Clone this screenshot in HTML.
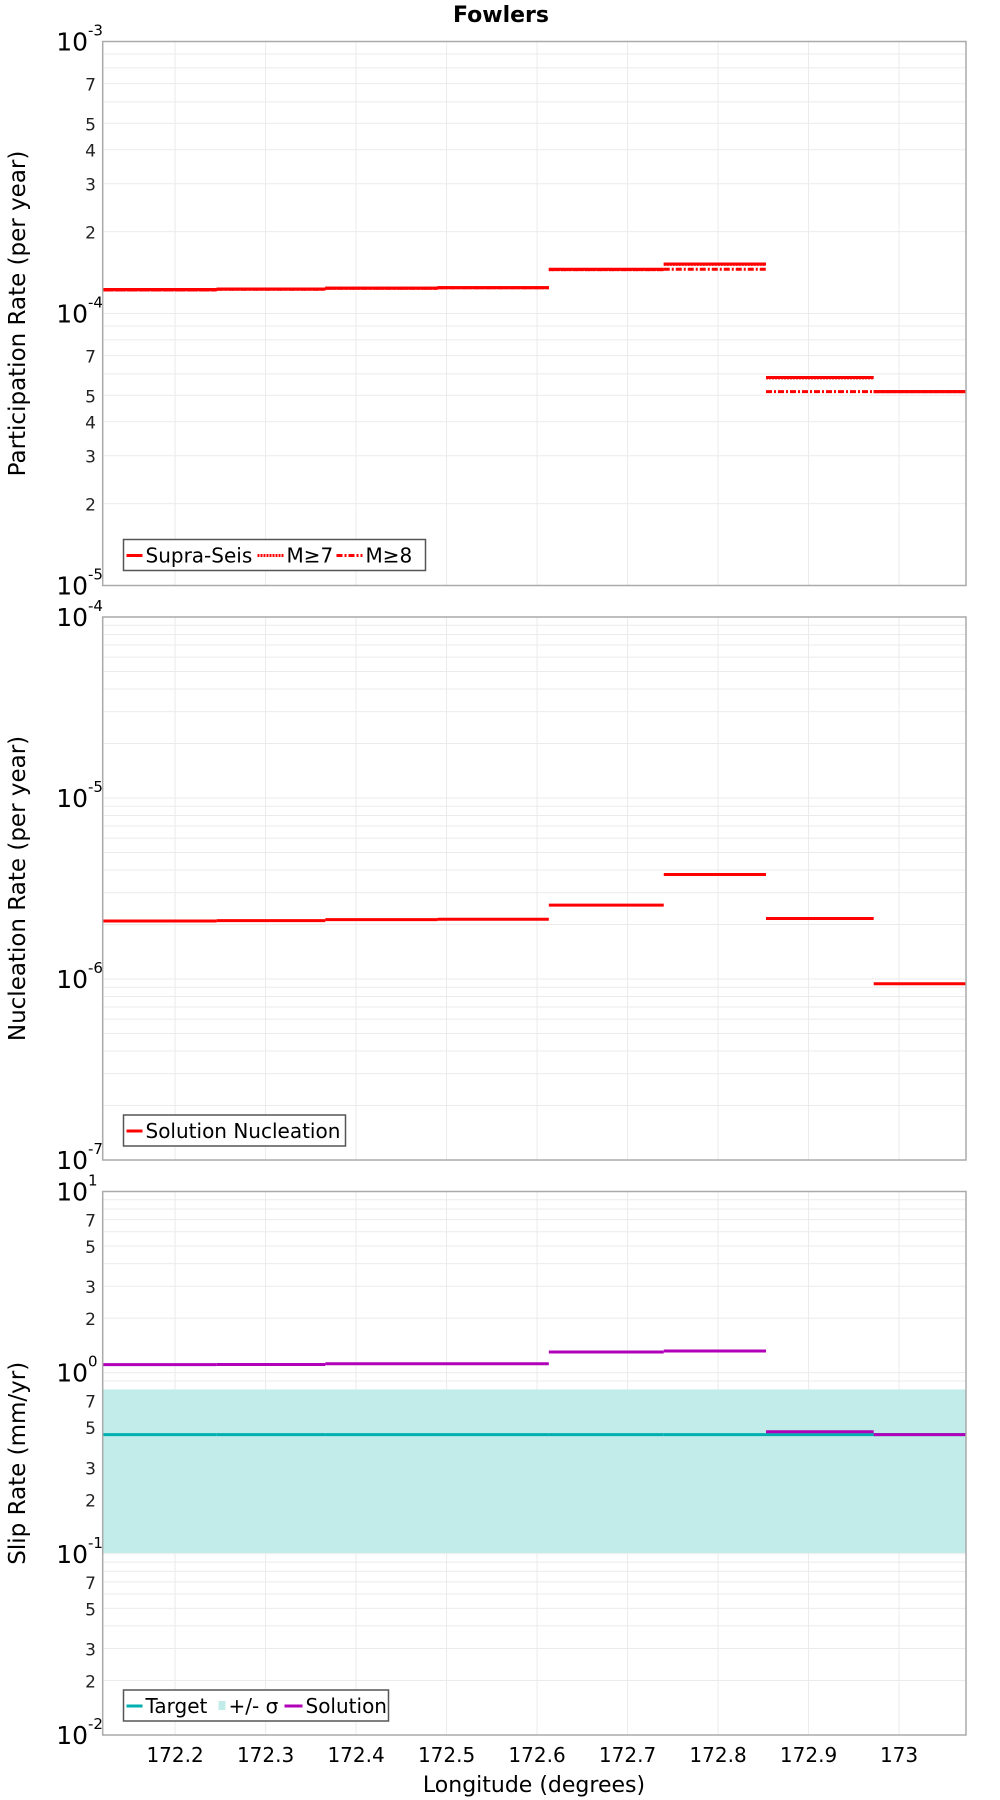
<!DOCTYPE html>
<html><head><meta charset="utf-8"><style>
body{margin:0;background:#fff;}
svg{display:block;font-family:"DejaVu Sans","Liberation Sans",sans-serif;}
</style></head><body>
<svg id="chart" width="1000" height="1800" viewBox="0 0 1000 1800" xmlns="http://www.w3.org/2000/svg">
<text x="501" y="22" text-anchor="middle" font-weight="bold" font-size="22">Fowlers</text>
<g id="root"></g>
</svg>
<script>
const xEdges=[172.12,172.246,172.366,172.49,172.613,172.740,172.853,172.972,173.074];
const xTicks=[172.2,172.3,172.4,172.5,172.6,172.7,172.8,172.9,173];
const xTickLabels=["172.2","172.3","172.4","172.5","172.6","172.7","172.8","172.9","173"];
const partSupra=[1.225e-4,1.23e-4,1.24e-4,1.245e-4,1.455e-4,1.52e-4,5.82e-5,5.16e-5];
const partM7=[1.22e-4,1.228e-4,1.238e-4,1.243e-4,1.45e-4,1.515e-4,5.8e-5,5.16e-5];
const partM8=[1.22e-4,1.228e-4,1.238e-4,1.243e-4,1.45e-4,1.455e-4,5.16e-5,5.16e-5];
const nucl=[2.09e-6,2.10e-6,2.13e-6,2.14e-6,2.56e-6,3.78e-6,2.16e-6,9.41e-7];
const slipSol=[1.107,1.11,1.12,1.12,1.30,1.318,0.472,0.455];
const slipTarget=[0.455,0.455,0.455,0.455,0.455,0.455,0.455,0.455];
const slipLow=[0.101,0.101,0.101,0.101,0.101,0.101,0.101,0.101];
const slipHigh=[0.808,0.808,0.808,0.808,0.808,0.808,0.808,0.808];

const NS="http://www.w3.org/2000/svg";
const root=document.getElementById('root');
const L=102.7,R=966;
const X0=xEdges[0],X1=xEdges[xEdges.length-1];
function xs(v){return L+(v-X0)/(X1-X0)*(R-L);}
function mk(tag,attrs,parent){const e=document.createElementNS(NS,tag);for(const k in attrs)e.setAttribute(k,attrs[k]);(parent||root).appendChild(e);return e;}

function panel(name,top,bottom,dMin,dMax,minorLabels,title){
  const g=mk('g',{});
  
  
  const ys=v=>bottom-(Math.log10(v)-dMin)/(dMax-dMin)*(bottom-top);
  for(const t of xTicks){const l=mk('line',{x1:xs(t),x2:xs(t),y1:top,y2:bottom,stroke:'#ebebeb','stroke-width':1},g);
    }
  for(let d=dMin;d<dMax;d++){for(let m=1;m<10;m++){const v=m*Math.pow(10,d);const y=ys(v);
    const l=mk('line',{x1:L,x2:R,y1:y,y2:y,stroke:'#ebebeb','stroke-width':1},g);
    
    if(m>1&&minorLabels.includes(m)){const t=mk('text',{x:96,y:y+7,'text-anchor':'end','font-size':17,fill:'#222'},g);t.textContent=m;
      }}}
  for(let d=dMin;d<=dMax;d++){const y=ys(Math.pow(10,d));
    const t=mk('text',{x:88,y:y+9,'text-anchor':'end','font-size':25},g);t.textContent='10';
    
    const s=mk('text',{x:88,y:y-6,'font-size':15},g);s.textContent=String(d);
    }
  const at=mk('text',{x:0,y:0,'font-size':23,'text-anchor':'middle',transform:`translate(25,${(top+bottom)/2}) rotate(-90)`},g);
  at.textContent=title;
  return {g,ys};
}
function frame(g,top,bottom){const r=mk('rect',{x:L,y:top,width:R-L,height:bottom-top,fill:'none',stroke:'#aaa','stroke-width':1.5},g);
  }
function steps(g,ys,vals,color,dash,name,w){
  for(let i=0;i<vals.length;i++){const y=ys(vals[i]);
    const l=mk('line',{x1:xs(xEdges[i]),x2:xs(xEdges[i+1]),y1:y,y2:y,stroke:color,'stroke-width':w||3},g);
    if(dash)l.setAttribute('stroke-dasharray',dash);
    }
}
function legend(g,x,y,w,items){
  const r=mk('rect',{x:x,y:y,width:w,height:31,fill:'#fff',stroke:'#555','stroke-width':1.5},g);
  
  let cx=x+3;
  for(const it of items){
    if(it.band){const b=mk('rect',{x:cx+1,y:y+11,width:7,height:9,fill:'#c2ecea'},g);cx+=11;}
    else{const s=mk('line',{x1:cx,x2:cx+it.sw,y1:y+16,y2:y+16,stroke:it.color,'stroke-width':3},g);
      if(it.dash)s.setAttribute('stroke-dasharray',it.dash);
      cx+=it.sw+3;}
    const t=mk('text',{x:cx,y:y+23,'font-size':20},g);t.textContent=it.label;
    
    cx+=it.tw+4;
  }
}
let p=panel('participation-panel',41.5,585.5,-5,-3,[2,3,4,5,7],'Participation Rate (per year)');
steps(p.g,p.ys,partM8,'#f00','6,2,2,2','m8-segment');
steps(p.g,p.ys,partM7,'#f00','2,1','m7-segment');
steps(p.g,p.ys,partSupra,'#f00',null,'supra-seis-segment');
frame(p.g,41.5,585.5);
legend(p.g,123.5,539.5,302,[{color:'#f00',sw:16,label:'Supra-Seis',tw:108},{color:'#f00',sw:26,dash:'2,1',label:'M≥7',tw:46},{color:'#f00',sw:26,dash:'6,2,2,2',label:'M≥8',tw:46}]);
p=panel('nucleation-panel',617,1160,-7,-4,[],'Nucleation Rate (per year)');
steps(p.g,p.ys,nucl,'#f00',null,'nucleation-segment');
frame(p.g,617,1160);
legend(p.g,123.5,1115,222,[{color:'#f00',sw:16,label:'Solution Nucleation',tw:198}]);
p=panel('slip-rate-panel',1191.5,1735,-2,1,[2,3,5,7],'Slip Rate (mm/yr)');
for(let i=0;i<slipLow.length;i++){const y1=p.ys(slipHigh[i]),y2=p.ys(slipLow[i]);
  const b=mk('rect',{x:xs(xEdges[i]),y:y1,width:xs(xEdges[i+1])-xs(xEdges[i])+0.5,height:y2-y1,fill:'#c2ecea'},p.g);
  }
steps(p.g,p.ys,slipTarget,'#00b0b0',null,'target-segment');
steps(p.g,p.ys,slipSol,'#b000b8',null,'solution-segment');
frame(p.g,1191.5,1735);
legend(p.g,123.5,1690,265,[{color:'#00b0b0',sw:16,label:'Target',tw:68},{band:true,label:'+/- σ',tw:52},{color:'#b000b8',sw:18,label:'Solution',tw:86}]);
for(let i=0;i<xTicks.length;i++){const t=mk('text',{x:xs(xTicks[i]),y:1762,'text-anchor':'middle','font-size':20});
  t.textContent=xTickLabels[i];}
const xt=mk('text',{x:534,y:1792,'text-anchor':'middle','font-size':22});xt.textContent='Longitude (degrees)';

</script>
</body></html>
